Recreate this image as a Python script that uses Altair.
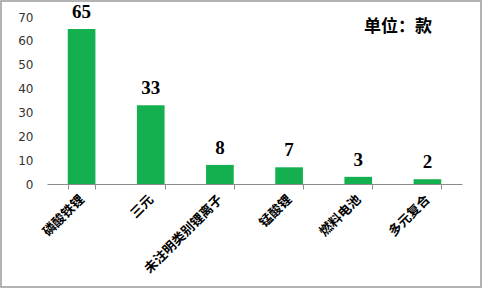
import altair as alt
import pandas as pd

categories = ["磷酸铁锂", "三元", "未注明类别锂离子", "锰酸锂", "燃料电池", "多元复合"]
counts = [65, 33, 8, 7, 3, 2]
y_ticks = [0, 10, 20, 30, 40, 50, 60, 70]
unit_text = "单位：款"

df = pd.DataFrame({"type": categories, "count": counts})

PLOT_W, PLOT_H = 415, 167
PAD_L, PAD_T = 47, 17

x_enc = alt.X(
    "type:N",
    sort=categories,
    scale=alt.Scale(paddingInner=0.6, paddingOuter=0.3),
    axis=alt.Axis(
        title=None,
        labelAngle=-45,
        labelAlign="right",
        labelBaseline="middle",
        labelFont="Noto Sans CJK SC",
        labelFontWeight="bold",
        labelFontSize=13,
        labelColor="#000000",
        labelPadding=8,
        domainColor="#8c8c8c",
        tickColor="#8c8c8c",
        tickSize=5,
        tickBand="extent",
    ),
)

y_enc = alt.Y(
    "count:Q",
    scale=alt.Scale(domain=[0, 70], nice=False),
    axis=alt.Axis(
        title=None,
        values=y_ticks,
        grid=False,
        domain=False,
        ticks=False,
        labelFont="DejaVu Sans",
        labelFontSize=12,
        labelColor="#333333",
        labelPadding=14,
    ),
)

base = alt.Chart(df).encode(x=x_enc, y=y_enc)

bars = base.mark_bar(color="#14b04f")

values = base.mark_text(
    dy=-17,
    font="Liberation Serif",
    fontWeight="bold",
    fontSize=19,
    color="#000000",
).encode(text="count:Q")

unit = alt.Chart(pd.DataFrame({"t": [unit_text]})).mark_text(
    font="Noto Sans CJK SC",
    fontWeight="bold",
    fontSize=17,
    color="#000000",
    align="left",
    baseline="middle",
).encode(x=alt.value(317), y=alt.value(27 - PAD_T), text="t:N")

frame = alt.Chart(pd.DataFrame({"k": [0]})).mark_rect(
    fill=None, stroke="#9a9a9a", strokeWidth=1.5
).encode(
    x=alt.value(1 - PAD_L),
    x2=alt.value(481 - PAD_L),
    y=alt.value(1 - PAD_T),
    y2=alt.value(287 - PAD_T),
)

chart = (
    alt.layer(bars, values, unit, frame)
    .properties(
        width=PLOT_W,
        height=PLOT_H,
        autosize=alt.AutoSizeParams(type="none"),
        padding={"left": PAD_L, "top": PAD_T, "right": 484 - PAD_L - PLOT_W, "bottom": 290 - PAD_T - PLOT_H},
        background="#ffffff",
    )
    .configure_view(stroke=None)
)

chart.save("out.html", embed_options={"renderer": "svg", "actions": False})
